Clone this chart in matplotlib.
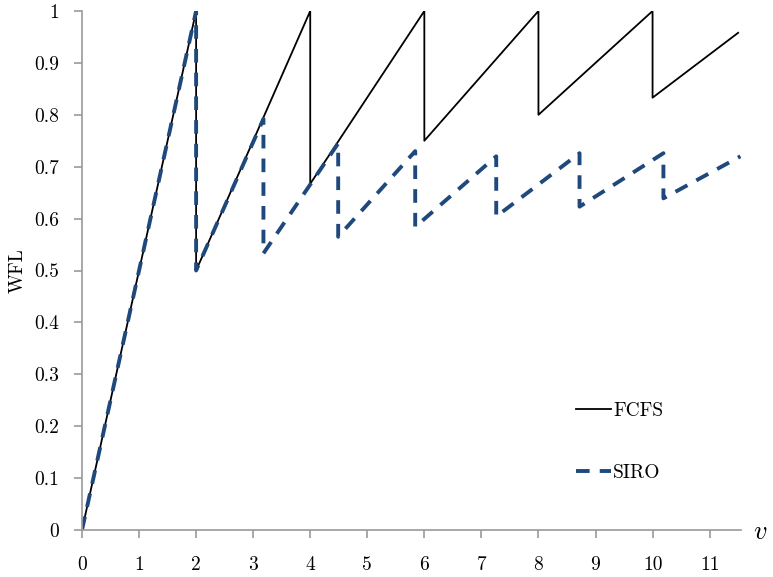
import matplotlib
matplotlib.use("Agg")
import matplotlib.pyplot as plt

# FCFS and SIRO curves (breakpoints)
fcfs_x = [0, 2, 2, 4, 4, 6, 6, 8, 8, 10, 10, 11.5]
fcfs_y = [0, 1, 0.5, 1, 0.667, 1, 0.75, 1, 0.8, 1, 0.833, 0.958]

siro_x = [0, 2, 2, 3.18, 3.18, 4.49, 4.49, 5.84, 5.84, 7.26, 7.26,
          8.72, 8.72, 10.19, 10.19, 11.54]
siro_y = [0, 1, 0.5, 0.792, 0.533, 0.745, 0.565, 0.73, 0.584, 0.72, 0.604,
          0.726, 0.623, 0.726, 0.639, 0.72]

x_ticks = list(range(12))
y_ticks = [0, 0.1, 0.2, 0.3, 0.4, 0.5, 0.6, 0.7, 0.8, 0.9, 1]
y_labels = ["0", "0.1", "0.2", "0.3", "0.4", "0.5", "0.6", "0.7", "0.8", "0.9", "1"]

plt.rcParams['font.family'] = 'cmr10'
plt.rcParams['mathtext.fontset'] = 'cm'
plt.rcParams['axes.formatter.use_mathtext'] = True

fig = plt.figure(figsize=(7.73, 5.77), dpi=100)
ax = fig.add_axes([82 / 773, 47 / 577, 659 / 773, 519 / 577])

ax.plot(fcfs_x, fcfs_y, color='black', lw=1.3, label='FCFS')
ax.plot(siro_x, siro_y, color='#1f497d', lw=2.8, dashes=(3.5, 2.6),
        label='SIRO')

ax.set_xlim(0, 11.55)
ax.set_ylim(0, 1)
ax.set_xticks(x_ticks)
ax.set_xticklabels([str(t) for t in x_ticks])
ax.set_yticks(y_ticks)
ax.set_yticklabels(y_labels)

for s in ['top', 'right']:
    ax.spines[s].set_visible(False)
for s in ['left', 'bottom']:
    ax.spines[s].set_color('#9a9a9a')
    ax.spines[s].set_linewidth(1.2)
ax.tick_params(axis='both', colors='#9a9a9a', labelcolor='black',
               labelsize=14, width=1.2, length=5.5)
ax.tick_params(axis='y', pad=11)
ax.tick_params(axis='x', pad=13)

ax.set_ylabel('WFL', fontsize=14, labelpad=5)
ax.text(1.029, -0.005, '$v$', transform=ax.transAxes, fontsize=19,
        ha='center', va='center')

ax.legend(loc='upper left', bbox_to_anchor=(0.735, 0.265), frameon=False,
          fontsize=14, handlelength=1.8, handletextpad=0.1,
          labelspacing=2.25, borderpad=0)

fig.savefig('out.png', dpi=100)
